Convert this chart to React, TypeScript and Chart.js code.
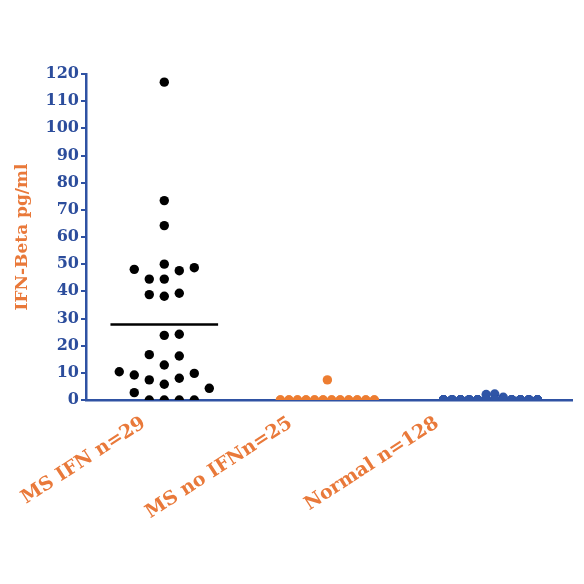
import React, { useEffect, useRef } from 'react';
import { Chart, registerables } from 'chart.js';

Chart.register(...registerables);

const categories = ['MS IFN n=29', 'MS no IFNn=25', 'Normal n=128'];
const yTickValues = [0, 10, 20, 30, 40, 50, 60, 70, 80, 90, 100, 110, 120];
const yTitle = 'IFN-Beta pg/ml';

const msIfnValues = [
  0, 0, 0, 0, 2.7, 4.3, 5.8, 7.4, 8.0, 9.2, 9.8, 10.4, 12.9, 16.2, 16.7,
  23.8, 24.2, 38.2, 38.8, 39.3, 44.5, 44.5, 47.6, 48.1, 48.7, 50.0, 64.2, 73.4, 117.0,
];
const msNoIfnValues = [
  0, 0, 0, 0, 0, 0, 0, 0, 0, 0, 0, 0, 0, 0, 0, 0, 0, 0, 0, 0, 0, 0, 0, 0, 7.4,
];
const normalValues = [
  0, 0, 0, 0, 0, 0, 0, 0, 0, 0, 0, 0, 0, 0, 0, 0, 0, 0, 0, 0, 0, 0, 0, 0, 0,
  0, 0, 0, 0, 0, 0, 0, 0, 0, 0, 0, 0, 0, 0, 0, 0, 0, 0, 0, 0, 0, 0, 0, 0, 0,
  0, 0, 0, 0, 0, 0, 0, 0, 0, 0, 0, 0, 0, 0, 0, 0, 0, 0, 0, 0, 0, 0, 0, 0, 0,
  0, 0, 0, 0, 0, 0, 0, 0, 0, 0, 0, 0, 0, 0, 0, 0, 0, 0, 0, 0, 0, 0, 0, 0, 0,
  0, 0, 0, 0, 0, 0, 0, 0, 0, 0, 0, 0, 0, 0, 0, 0, 0, 0, 0, 0, 0, 0, 0, 0, 0,
  1.0, 2.0, 2.2,
];

const BLUE = '#2f52a3';
const TICK_BLUE = '#2c4d9c';
const ORANGE = '#e9793a';
const DOT_ORANGE = '#ed7d31';
const DOT_BLUE = '#2f55a6';
const SERIF = "'DejaVu Serif', 'Liberation Serif', serif";

// Scatter-dot layout: values are grouped in rows (vertical span < ROW_GAP),
// each row spread sideways in columns; crowded rows wrap over a fixed set of columns.
const ROW_GAP = 5;
const COL_STEP = 0.092; // x-units between columns
const HALF_WIDTH = 0.288; // max half-width of a group, x-units
const DENSE_COLS = [0.5, -0.5, 1.5, -1.5, 2.5, -2.5, 3.5, -3.5, 4.5, -4.5, 5.5, -5.5];

function swarmPoints(values: number[], center: number) {
  const sorted = values.slice().sort((a, b) => a - b);
  const rows: number[][] = [];
  for (const v of sorted) {
    const row = rows[rows.length - 1];
    if (row && v - row[0] < ROW_GAP) row.push(v);
    else rows.push([v]);
  }
  let left = 0;
  let right = 0;
  const pts: { x: number; y: number }[] = [];
  for (const row of rows) {
    const dense = row.length > 7;
    const items = dense ? row.slice().reverse() : row;
    const used = new Set<number>();
    const cols: number[] = [];
    for (let j = 0; j < items.length; j++) {
      let c = 0;
      if (dense) {
        c = DENSE_COLS[j % DENSE_COLS.length];
      } else if (used.has(0)) {
        for (let k = 1; k < 1000; k++) {
          const pref = left < right ? [-k, k] : [k, -k];
          const f = pref.find((x) => !used.has(x));
          if (f !== undefined) {
            c = f;
            break;
          }
        }
      }
      used.add(c);
      cols.push(c);
      if (!dense) {
        if (c < 0) left++;
        else if (c > 0) right++;
      }
    }
    const maxAbs = Math.max(1, ...cols.map((c) => Math.abs(c)));
    const step = Math.min(COL_STEP, HALF_WIDTH / maxAbs);
    items.forEach((v, j) => pts.push({ x: center + cols[j] * step, y: v }));
  }
  return pts;
}

const mean = (a: number[]) => a.reduce((s, v) => s + v, 0) / a.length;

export default function App() {
  const ref = useRef<HTMLCanvasElement | null>(null);

  useEffect(() => {
    if (!ref.current) return;
    const msMean = mean(msIfnValues);
    const chart = new Chart(ref.current, {
      type: 'scatter',
      data: {
        datasets: [
          {
            type: 'line',
            data: [
              { x: 0.67, y: msMean },
              { x: 1.33, y: msMean },
            ],
            borderColor: '#000000',
            borderWidth: 2.5,
            pointRadius: 0,
          } as any,
          {
            data: swarmPoints(msIfnValues, 1),
            backgroundColor: '#000000',
            borderWidth: 0,
            pointRadius: 4.7,
          },
          {
            data: swarmPoints(msNoIfnValues, 2),
            backgroundColor: DOT_ORANGE,
            borderWidth: 0,
            pointRadius: 4.7,
          },
          {
            data: swarmPoints(normalValues, 3),
            backgroundColor: DOT_BLUE,
            borderWidth: 0,
            pointRadius: 4.7,
          },
        ],
      },
      options: {
        animation: false,
        responsive: false,
        devicePixelRatio: 1,
        layout: { padding: { top: 74, right: 12, left: 0, bottom: 0 } },
        plugins: { legend: { display: false }, tooltip: { enabled: false } },
        scales: {
          x: {
            type: 'linear',
            position: 'bottom',
            weight: 0,
            min: 0.52,
            max: 3.5,
            z: 1,
            afterFit: (s: any) => {
              s.height = 0;
            },
            ticks: { display: false },
            grid: { display: false },
            border: { display: true, color: BLUE, width: 2.5 },
          },
          xLabels: {
            type: 'linear',
            position: 'bottom',
            weight: 1,
            min: 0.604,
            max: 3.921,
            afterBuildTicks: (s: any) => {
              s.ticks = categories.map((_, i) => ({ value: i + 1 }));
            },
            afterFit: (s: any) => {
              s.height = 184;
            },
            ticks: {
              autoSkip: false,
              minRotation: 33,
              maxRotation: 33,
              padding: 4,
              color: ORANGE,
              font: { family: SERIF, weight: 'bold', size: 19 },
              callback: (_v: any, i: number) => categories[i],
            },
            grid: { display: false },
            border: { display: false },
          },
          y: {
            min: 0,
            max: 120,
            afterBuildTicks: (s: any) => {
              s.ticks = yTickValues.map((v) => ({ value: v }));
            },
            afterFit: (s: any) => {
              s.width = 86;
            },
            ticks: {
              padding: 2,
              color: TICK_BLUE,
              font: { family: SERIF, weight: 'bold', size: 16 },
            },
            grid: {
              drawOnChartArea: false,
              drawTicks: true,
              tickLength: 5,
              color: BLUE,
              lineWidth: 2,
            },
            border: { display: true, color: BLUE, width: 2.5 },
            title: {
              display: true,
              text: yTitle,
              color: ORANGE,
              font: { family: SERIF, weight: 'bold', size: 17 },
              padding: { top: 12, bottom: 0 },
            },
          },
        },
      } as any,
    });
    return () => chart.destroy();
  }, []);

  return (
    <div style={{ position: 'fixed', left: 0, top: 0, width: 584, height: 584, background: '#fff' }}>
      <canvas ref={ref} width={584} height={584} style={{ display: 'block' }} />
    </div>
  );
}
